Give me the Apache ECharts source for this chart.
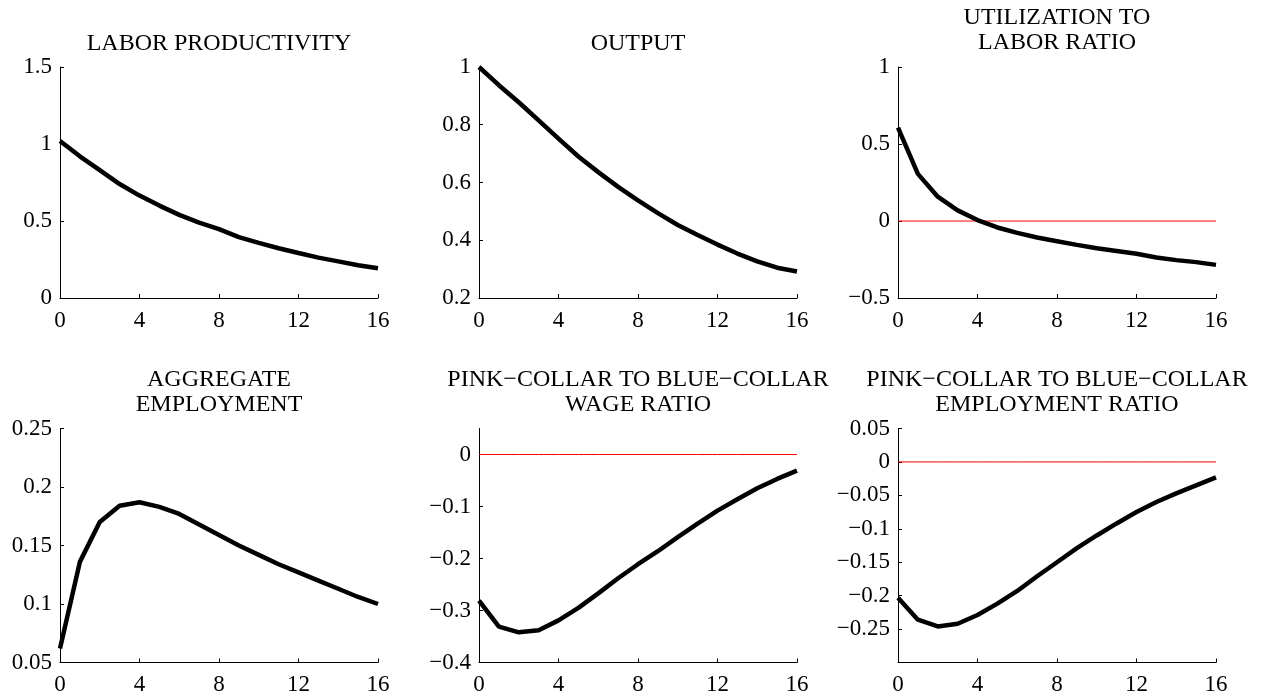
<!DOCTYPE html>
<html>
<head>
<meta charset="utf-8">
<title>Impulse responses</title>
<script src="https://cdn.jsdelivr.net/npm/echarts@6/dist/echarts.min.js"></script>
<style>
  html, body { margin: 0; padding: 0; background: #fff; }
  #main { width: 1261px; height: 700px; }
</style>
</head>
<body>
<div id="main"></div>
<script>
// quarters after the shock
var quarters = [0,1,2,3,4,5,6,7,8,9,10,11,12,13,14,15,16];
var xTicks = [0, 4, 8, 12, 16];

// responses
var laborProductivity = [1.02,0.92,0.83,0.74,0.665,0.6,0.54,0.49,0.447,0.395,0.358,0.323,0.292,0.262,0.238,0.213,0.193];
var output = [1.0,0.937,0.878,0.815,0.752,0.69,0.636,0.585,0.538,0.494,0.453,0.418,0.385,0.354,0.327,0.305,0.292];
var utilLaborRatio = [0.606,0.306,0.158,0.069,0.006,-0.042,-0.077,-0.107,-0.131,-0.155,-0.177,-0.195,-0.213,-0.237,-0.254,-0.267,-0.285];
var aggEmployment = [0.062,0.136,0.17,0.184,0.187,0.183,0.177,0.168,0.159,0.15,0.142,0.134,0.127,0.12,0.113,0.106,0.1];
var wageRatio = [-0.281,-0.331,-0.342,-0.338,-0.319,-0.295,-0.267,-0.238,-0.211,-0.186,-0.159,-0.133,-0.108,-0.086,-0.065,-0.047,-0.031];
var employmentRatio = [-0.203,-0.236,-0.246,-0.242,-0.229,-0.212,-0.193,-0.171,-0.150,-0.129,-0.110,-0.092,-0.075,-0.060,-0.047,-0.035,-0.023];
var zeroLine = [0,0,0,0,0,0,0,0,0,0,0,0,0,0,0,0,0];

// y axis ticks / ranges per panel
var yTicks1 = [0, 0.5, 1, 1.5];
var yTicks2 = [0.2, 0.4, 0.6, 0.8, 1];
var yTicks3 = [-0.5, 0, 0.5, 1];
var yTicks4 = [0.05, 0.1, 0.15, 0.2, 0.25];
var yTicks5 = [-0.4, -0.3, -0.2, -0.1, 0];
var yTicks6 = [-0.25, -0.2, -0.15, -0.1, -0.05, 0, 0.05];

var panels = [
  { title: "LABOR PRODUCTIVITY", data: laborProductivity, ticks: yTicks1, min: 0, max: 1.5, zero: false },
  { title: "OUTPUT", data: output, ticks: yTicks2, min: 0.2, max: 1, zero: false },
  { title: "UTILIZATION TO\nLABOR RATIO", data: utilLaborRatio, ticks: yTicks3, min: -0.5, max: 1, zero: true },
  { title: "AGGREGATE\nEMPLOYMENT", data: aggEmployment, ticks: yTicks4, min: 0.05, max: 0.25, zero: false },
  { title: "PINK\u2212COLLAR TO BLUE\u2212COLLAR\nWAGE RATIO", data: wageRatio, ticks: yTicks5, min: -0.4, max: 0.05, zero: true },
  { title: "PINK\u2212COLLAR TO BLUE\u2212COLLAR\nEMPLOYMENT RATIO", data: employmentRatio, ticks: yTicks6, min: -0.3, max: 0.05, zero: true }
];

var FONT = "'Liberation Serif', 'Times New Roman', serif";
var lefts = [60, 479, 898];
var tops = [67, 428.5];
var heights = [231, 234];
var W = 318;

function fmt(v) {
  var s = String(parseFloat(Number(v).toFixed(4)));
  return s.replace("-", "\u2212");
}

var grids = [], xAxes = [], yAxes = [], titles = [], series = [];
panels.forEach(function (p, i) {
  var row = Math.floor(i / 3), col = i % 3;
  grids.push({ left: lefts[col], top: tops[row], width: W, height: heights[row] });
  var twoLines = p.title.indexOf("\n") >= 0;
  titles.push({
    text: p.title,
    left: lefts[col] + W / 2,
    top: row === 0 ? (twoLines ? 5 : 31) : 367,
    padding: 0,
    textAlign: "center",
    textStyle: { fontFamily: FONT, fontSize: 24, fontWeight: "normal", color: "#000", lineHeight: 25 }
  });
  xAxes.push({
    gridIndex: i, type: "value", min: 0, max: 16,
    axisLine: { show: true, onZero: false, lineStyle: { color: "#000", width: 1 } },
    axisTick: { show: true, inside: true, length: 4, customValues: xTicks, lineStyle: { color: "#000" } },
    axisLabel: { customValues: xTicks, margin: 11, fontFamily: FONT, fontSize: 23, color: "#000" },
    splitLine: { show: false }
  });
  yAxes.push({
    gridIndex: i, type: "value", min: p.min, max: p.max,
    axisLine: { show: true, onZero: false, lineStyle: { color: "#000", width: 1 } },
    axisTick: { show: true, inside: true, length: 4, customValues: p.ticks, lineStyle: { color: "#000" } },
    axisLabel: { customValues: p.ticks, margin: 8, fontFamily: FONT, fontSize: 23, color: "#000", formatter: fmt },
    splitLine: { show: false }
  });
  if (p.zero) {
    series.push({
      type: "line", xAxisIndex: i, yAxisIndex: i, showSymbol: false, silent: true,
      data: quarters.map(function (q, k) { return [q, zeroLine[k]]; }),
      lineStyle: { color: "#ff0000", width: 1 }
    });
  }
  series.push({
    type: "line", xAxisIndex: i, yAxisIndex: i, showSymbol: false, silent: true,
    data: quarters.map(function (q, k) { return [q, p.data[k]]; }),
    lineStyle: { color: "#000", width: 4.5 }
  });
});

var chart = echarts.init(document.getElementById("main"));
chart.setOption({
  animation: false,
  backgroundColor: "#fff",
  title: titles,
  grid: grids,
  xAxis: xAxes,
  yAxis: yAxes,
  series: series
});
</script>
</body>
</html>
